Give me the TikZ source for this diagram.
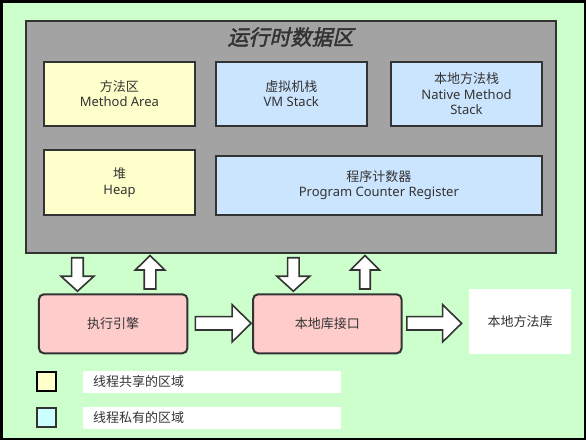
\documentclass[tikz,border=0pt]{standalone}
\usepackage{fontspec}
\setmainfont{Noto Sans}
\newfontfamily\cjk{Noto Sans CJK SC}
\newfontfamily\titlefont[FakeSlant=0.22,FakeBold=2]{Noto Sans CJK SC}
\usetikzlibrary{calc}

\definecolor{bggreen}{HTML}{CCFFCC}
\definecolor{areagray}{HTML}{A3A3A3}
\definecolor{shared}{HTML}{FFFFCC}
\definecolor{private}{HTML}{CCE5FF}
\definecolor{engine}{HTML}{FFCCCC}
\definecolor{legendcyan}{HTML}{CCFFFF}
\definecolor{edge}{HTML}{333333}
\definecolor{txt}{HTML}{333333}

\tikzset{
  region/.style={draw=edge, line width=2pt, align=center, inner sep=0pt},
  membox/.style={region, minimum width=151pt, minimum height=64.3pt},
  engbox/.style={region, fill=engine, rounded corners=5pt,
                 minimum width=148.5pt, minimum height=59pt},
  legsquare/.style={draw=edge, line width=2pt, minimum width=19pt,
                    minimum height=19.5pt, inner sep=0pt},
  legtext/.style={fill=white, anchor=west, align=left, text width=238pt,
                  inner xsep=10pt, inner ysep=0pt, minimum height=21.7pt},
  arrowshape/.style={draw=edge, fill=white, line width=1.6pt, line join=miter},
  pics/blockarrow/.style args={#1/#2/#3/#4}{code={
    \draw[arrowshape] (0,-#2/2) -- (#1-#4,-#2/2) -- (#1-#4,-#3/2) -- (#1,0)
      -- (#1-#4,#3/2) -- (#1-#4,#2/2) -- (0,#2/2) -- cycle;
  }},
}

\begin{document}
\begin{tikzpicture}[x=1pt, y=1pt,
  every node/.style={text=txt, font=\fontsize{13}{15.3}\selectfont}]
  \useasboundingbox (0,0) rectangle (586,-440);
  % background and frame
  \fill[bggreen] (0,0) rectangle (586,-440);
  \draw[black, line width=2.5pt] (1.25,-1.25) rectangle (584.75,-438.75);

  % runtime data area
  \node[region, fill=areagray, minimum width=530.3pt, minimum height=232.3pt]
    (rda) at (290.85,-137.15) {};
  \node[font=\titlefont\fontsize{21}{25}\selectfont] (title) at (290.5,-37) {运行时数据区};

  \node[membox, fill=shared]  (method) at (119.35,-93.85) {{\cjk 方法区}\\Method Area};
  \node[membox, fill=private] (vm)     at (291.3,-93.85)  {{\cjk 虚拟机栈}\\VM Stack};
  \node[membox, fill=private] (native) at (466.5,-93.85)  {{\cjk 本地方法栈}\\Native Method\\Stack};
  \node[membox, fill=shared]  (heap)   at (119.5,-182.6)  {{\cjk 堆}\\Heap};
  \node[region, fill=private, minimum width=326.3pt, minimum height=59pt]
    (pc) at (378.85,-185.2) {{\cjk 程序计数器}\\Program Counter Register};

  % execution engine, native interface and native libraries
  \node[engbox, font=\cjk\fontsize{13}{15.3}\selectfont] (exec) at (113.15,-323.8) {执行引擎};
  \node[engbox, font=\cjk\fontsize{13}{15.3}\selectfont] (ni)   at (327.35,-323.8) {本地库接口};
  \node[fill=white, minimum width=102pt, minimum height=65.3pt, inner sep=0pt,
        font=\cjk\fontsize{13}{15.3}\selectfont]
    (lib) at (520,-321.65) {本地方法库};

  % data exchange with the runtime data area
  \pic[rotate=-90] at ($(rda.south -| exec.north)+(-35.7,-3.4)$) {blockarrow=33.5/11.6/33/15};
  \pic[rotate=90]  at ($(exec.north)+(36.9,4.3)$)                {blockarrow=33.5/11.6/29.5/14.5};
  \pic[rotate=-90] at ($(rda.south -| ni.north)+(-34,-3.4)$)     {blockarrow=33.5/11.6/33/15};
  \pic[rotate=90]  at ($(ni.north)+(37.6,4.3)$)                  {blockarrow=33.5/10.5/29/14.5};

  % calls between the lower blocks
  \pic at ($(exec.east)+(7,0.5)$) {blockarrow=55.7/13.3/37.3/19};
  \pic at ($(ni.east)+(4.3,0.5)$) {blockarrow=54.7/13.3/37.3/19};

  % legend
  \node[legsquare, fill=shared, draw=black] (keyshared) at (46.2,-381.5) {};
  \node[legtext, font=\cjk\fontsize{13}{15.3}\selectfont] (labshared) at (83,-381.8) {线程共享的区域};
  \node[legsquare, fill=legendcyan] (keyprivate) at (46.2,-417.5) {};
  \node[legtext, font=\cjk\fontsize{13}{15.3}\selectfont] (labprivate) at (83,-417.8) {线程私有的区域};
\end{tikzpicture}
\end{document}
